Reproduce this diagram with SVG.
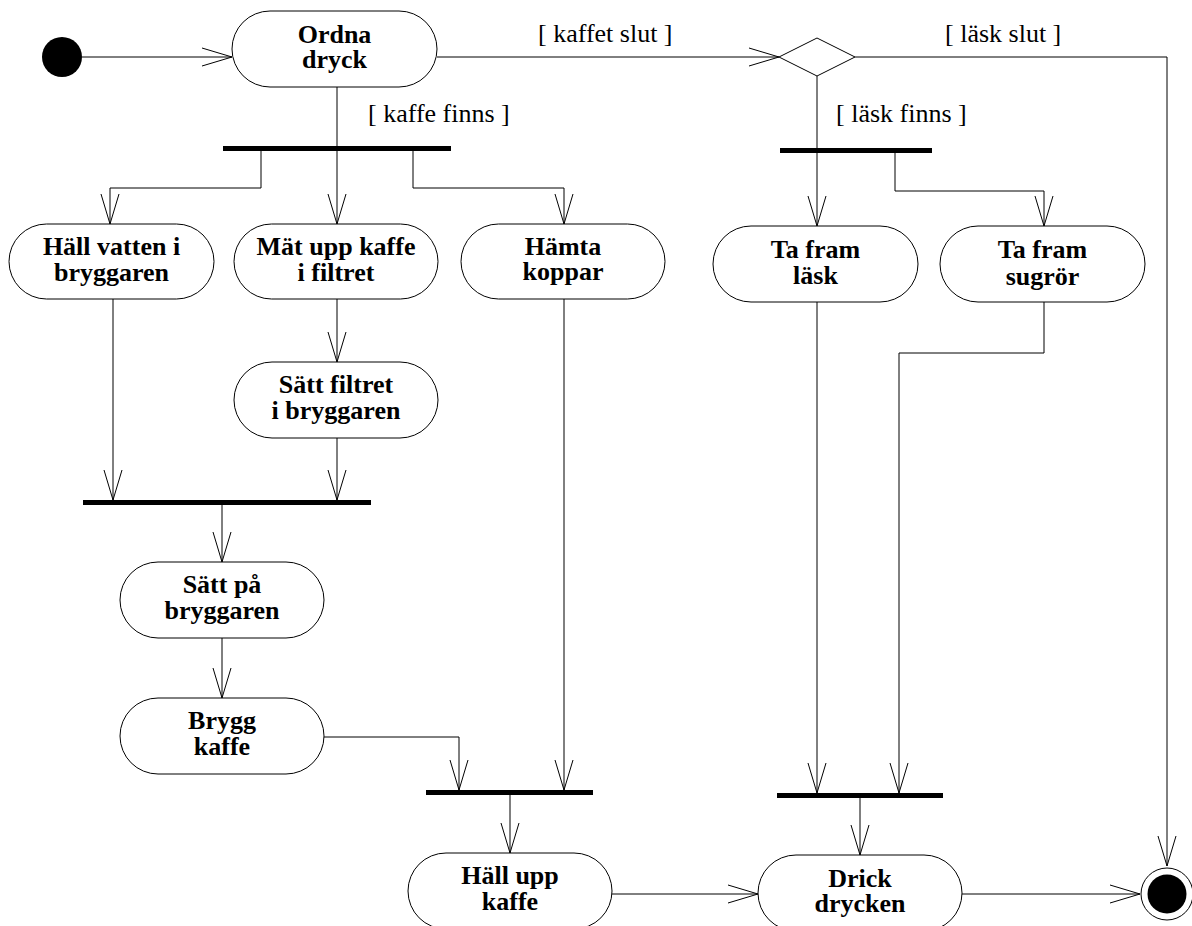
<svg xmlns="http://www.w3.org/2000/svg" width="1192" height="926" viewBox="0 0 1192 926">
<style>
.node rect{fill:#fff;stroke:#000;stroke-width:1}
.node text{font-family:"Liberation Serif","Times New Roman",serif;font-weight:bold;font-size:26px;text-anchor:middle;fill:#000}
.bar{fill:#000}
.lbl{font-family:"Liberation Serif","Times New Roman",serif;font-size:26px;fill:#000}
#connectors path{fill:none;stroke:#000;stroke-width:1}
</style>
<defs>
<marker id="arr" markerUnits="userSpaceOnUse" markerWidth="34" markerHeight="22" viewBox="-32 -11 34 22" refX="0" refY="0" orient="auto">
<path d="M-30,-9 L0,0 L-30,9" fill="none" stroke="#000" stroke-width="1"/>
</marker>
</defs>
<rect width="1192" height="926" fill="#fff"/>

<g id="connectors">
<path d="M82,57 H232" marker-end="url(#arr)"/>
<path d="M437,57 H779" marker-end="url(#arr)"/>
<path d="M337,87 V146"/>
<path d="M261,151 V188 H110 V224" marker-end="url(#arr)"/>
<path d="M337,151 V224" marker-end="url(#arr)"/>
<path d="M413,151 V188 H564 V224" marker-end="url(#arr)"/>
<path d="M337,299 V362" marker-end="url(#arr)"/>
<path d="M113,299 V500" marker-end="url(#arr)"/>
<path d="M337,438 V500" marker-end="url(#arr)"/>
<path d="M222,505 V562" marker-end="url(#arr)"/>
<path d="M222,638 V698" marker-end="url(#arr)"/>
<path d="M324,737 H459 V790" marker-end="url(#arr)"/>
<path d="M564,299 V790" marker-end="url(#arr)"/>
<path d="M510,795 V853" marker-end="url(#arr)"/>
<path d="M612,894 H758" marker-end="url(#arr)"/>
<path d="M817,76 V226" marker-end="url(#arr)"/>
<path d="M895,153 V191 H1044 V226" marker-end="url(#arr)"/>
<path d="M855,57 H1167 V866" marker-end="url(#arr)"/>
<path d="M817,302 V793" marker-end="url(#arr)"/>
<path d="M1044,302 V353 H899 V793" marker-end="url(#arr)"/>
<path d="M860,798 V855" marker-end="url(#arr)"/>
<path d="M962,894 H1140" marker-end="url(#arr)"/>
</g>

<g id="labels">
<text class="lbl" x="538" y="42">[ kaffet slut ]</text>
<text class="lbl" x="945" y="42">[ läsk slut ]</text>
<text class="lbl" x="368" y="122">[ kaffe finns ]</text>
<text class="lbl" x="836" y="122">[ läsk finns ]</text>
</g>

<g id="start"><circle cx="62" cy="57" r="20" fill="#000"/></g>

<g id="decision"><polygon points="779,57 817,38 855,57 817,76" fill="#fff" stroke="#000" stroke-width="1"/></g>

<g id="end">
<circle cx="1167" cy="894" r="26" fill="#fff" stroke="#000" stroke-width="1"/>
<circle cx="1167" cy="894" r="19.5" fill="#000"/>
</g>

<g id="fork1"><rect class="bar" x="223" y="146" width="228" height="5"/></g>
<g id="fork2"><rect class="bar" x="780" y="148" width="152" height="5"/></g>
<g id="join1"><rect class="bar" x="83" y="500" width="288" height="5"/></g>
<g id="join2"><rect class="bar" x="426" y="790" width="167" height="5"/></g>
<g id="join3"><rect class="bar" x="777" y="793" width="166" height="5"/></g>

<g id="ordna" class="node"><rect x="232" y="11" width="205" height="76" rx="38"/><text x="334.5" y="43">Ordna</text><text x="334.5" y="68">dryck</text></g>
<g id="hall_vatten" class="node"><rect x="9" y="224" width="205" height="75" rx="37.5"/><text x="111.5" y="255">Häll vatten i</text><text x="111.5" y="281">bryggaren</text></g>
<g id="mat_upp" class="node"><rect x="234" y="224" width="204" height="75" rx="37.5"/><text x="336" y="255">Mät upp kaffe</text><text x="336" y="281">i filtret</text></g>
<g id="hamta" class="node"><rect x="461" y="224" width="204" height="75" rx="37.5"/><text x="563" y="255">Hämta</text><text x="563" y="280">koppar</text></g>
<g id="ta_lask" class="node"><rect x="713" y="226" width="205" height="76" rx="38"/><text x="815.5" y="258">Ta fram</text><text x="815.5" y="284">läsk</text></g>
<g id="sugror" class="node"><rect x="940" y="226" width="205" height="76" rx="38"/><text x="1042.5" y="258">Ta fram</text><text x="1042.5" y="285">sugrör</text></g>
<g id="satt_filtret" class="node"><rect x="234" y="362" width="204" height="76" rx="38"/><text x="336" y="393">Sätt filtret</text><text x="336" y="419">i bryggaren</text></g>
<g id="satt_pa" class="node"><rect x="120" y="562" width="204" height="76" rx="38"/><text x="222" y="593">Sätt på</text><text x="222" y="619">bryggaren</text></g>
<g id="brygg" class="node"><rect x="120" y="698" width="204" height="76" rx="38"/><text x="222" y="729">Brygg</text><text x="222" y="755">kaffe</text></g>
<g id="hall_upp" class="node"><rect x="408" y="853" width="204" height="76" rx="38"/><text x="510" y="884">Häll upp</text><text x="510" y="910">kaffe</text></g>
<g id="drick" class="node"><rect x="758" y="855" width="204" height="76" rx="38"/><text x="860" y="887">Drick</text><text x="860" y="912">drycken</text></g>
</svg>
